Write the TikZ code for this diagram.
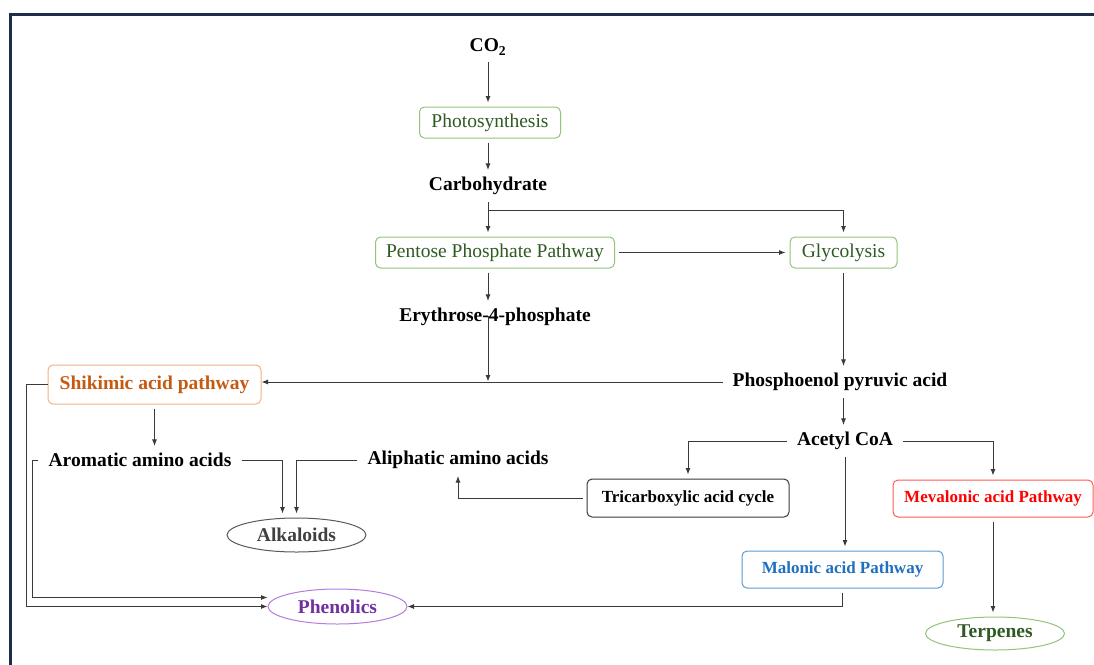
\documentclass[tikz,border=0pt]{standalone}
\usepackage{fontspec}
\setmainfont{Liberation Serif}
\usepackage{tikz}
\usetikzlibrary{arrows.meta, shapes.geometric, positioning}

\definecolor{framenavy}{HTML}{1F2D4A}
\definecolor{linegray}{HTML}{3A3A3A}
\definecolor{leafline}{HTML}{93C47D}
\definecolor{leafdark}{HTML}{2F5A22}
\definecolor{shikline}{HTML}{F4B183}
\definecolor{shiktext}{HTML}{C55A11}
\definecolor{mevaline}{HTML}{FF5A5A}
\definecolor{mevatext}{HTML}{FF0000}
\definecolor{maloline}{HTML}{5B9BD5}
\definecolor{malotext}{HTML}{1F70C1}
\definecolor{phenline}{HTML}{B57EDC}
\definecolor{phentext}{HTML}{7030A0}
\definecolor{alkline}{HTML}{595959}
\definecolor{alktext}{HTML}{404040}

\tikzset{
	bigtext/.style={font=\fontsize{19.5}{23}\selectfont\bfseries, inner xsep=6pt, inner ysep=3pt}
}
\tikzset{
	regtext/.style={font=\fontsize{19.5}{23}\selectfont}
}
\tikzset{
	smalltext/.style={font=\fontsize{17}{20}\selectfont\bfseries}
}
\tikzset{
	stagebox/.style={draw, rounded corners=5pt, line width=1pt, inner sep=0pt}
}
\tikzset{
	productoval/.style={draw, ellipse, line width=1pt, inner sep=0pt,
		minimum width=139pt, minimum height=34pt, font=\fontsize{19.5}{23}\selectfont\bfseries}
}
\tikzset{
	link/.style={draw=linegray, line width=0.9pt, -{Latex[length=6.5pt,width=5pt]},
		shorten >=4pt, shorten <=4pt}
}

\begin{document}
\begin{tikzpicture}[x=1pt, y=-1pt]
      \useasboundingbox (0,0) rectangle (1094,664);
      \clip (0,0) rectangle (1094,664);
      \fill[white] (0,0) rectangle (1094,664);
      \draw[framenavy, line width=2.5pt] (10.5,14.5) rectangle (1130,700);
      % main chain down the middle
      \node[bigtext] (co2) at (488,47) {CO\textsubscript{2}};
      \node[stagebox, regtext, draw=leafline, text=leafdark, minimum width=141pt, minimum height=31pt]
        (photo) at (490,122.5) {Photosynthesis};
      \node[bigtext] (carb) at (488,186) {Carbohydrate};
      \node[stagebox, regtext, draw=leafline, text=leafdark, minimum width=239pt, minimum height=31pt]
        (ppp) at (495,252.5) {Pentose Phosphate Pathway};
      \node[stagebox, regtext, draw=leafline, text=leafdark, minimum width=107pt, minimum height=31pt]
        (glyc) at (843.5,252.5) {Glycolysis};
      \node[bigtext] (e4p) at (495,317) {Erythrose-4-phosphate};
      \node[bigtext] (pep) at (840,382) {Phosphoenol pyruvic acid};
      \node[bigtext] (acetyl) at (845,441) {Acetyl CoA};
      \node[stagebox, bigtext, draw=shikline, text=shiktext, inner sep=0pt, minimum width=213pt, minimum height=39pt]
        (shik) at (154.5,384.5) {Shikimic acid pathway};
      \node[bigtext] (arom) at (140,460) {Aromatic amino acids};
      \node[bigtext] (aliph) at (458,460) {Aliphatic amino acids};
      \node[stagebox, smalltext, draw=linegray, minimum width=202pt, minimum height=38pt]
        (tca) at (688,498) {Tricarboxylic acid cycle};
      \node[stagebox, smalltext, draw=mevaline, text=mevatext, minimum width=200pt, minimum height=37pt]
        (meva) at (993,498.5) {Mevalonic acid Pathway};
      \node[stagebox, smalltext, draw=maloline, text=malotext, minimum width=201pt, minimum height=37pt]
        (malo) at (842.5,569.5) {Malonic acid Pathway};
      \node[productoval, draw=alkline, text=alktext] (alk) at (296.5,535) {Alkaloids};
      \node[productoval, draw=phenline, text=phentext, minimum height=35pt] (phen) at (337.5,606.5) {Phenolics};
      \node[productoval, draw=leafline, text=leafdark, minimum height=33pt] (terp) at (995,633.5) {Terpenes};
      \coordinate (split) at (488,210);
      % the drop line runs through the label, as in the source figure
      \coordinate (e4pdrop) at (488,316);

      \draw[link] (co2) -- (co2 |- photo.north);
      \draw[link] (co2 |- photo.south) -- (carb);
      \draw[link] (carb.south) -- (carb.south |- ppp.north);
      \draw[link, shorten <=0pt] (split) -| (glyc.north);
      \draw[link] (ppp.east) -- (glyc.west);
      \draw[link] (carb.south |- ppp.south) -- (carb.south |- e4p.north);
      \draw[link, shorten <=0pt, shorten >=0.5pt] (e4pdrop) -- (e4pdrop |- pep);
      \draw[link, shorten >=0pt] (pep.west) -- (pep.west -| shik.east);
      \draw[link] (glyc.south) -- (glyc.south |- pep.north);
      \draw[link] (glyc.south |- pep.south) -- (glyc.south |- acetyl.north);
      \draw[link] (acetyl.west) -| (tca.north);
      \draw[link] (acetyl.east) -| (meva.north);
      \draw[link] (acetyl.south) -- (acetyl.south |- malo.north);
      \draw[link] (meva.south) -- (meva.south |- terp.north);
      \draw[link] (tca.west) -| (aliph.south);
      \draw[link] (arom.east) -| ([xshift=-14pt]alk.north);
      \draw[link] (aliph.west) -| (alk.north);
      \draw[link] (shik.south) -- (shik.south |- arom.north);
      \draw[link, shorten <=0pt, shorten >=0pt] (shik.west) -- ++(-21,0) |- (phen.west);
      \draw[link, shorten >=0pt] (arom.west) -- ++(-10,0) |- ([yshift=9pt]phen.west);
      \draw[link, shorten >=0pt] (malo.south) |- (phen.east);
    \end{tikzpicture}
\end{document}
